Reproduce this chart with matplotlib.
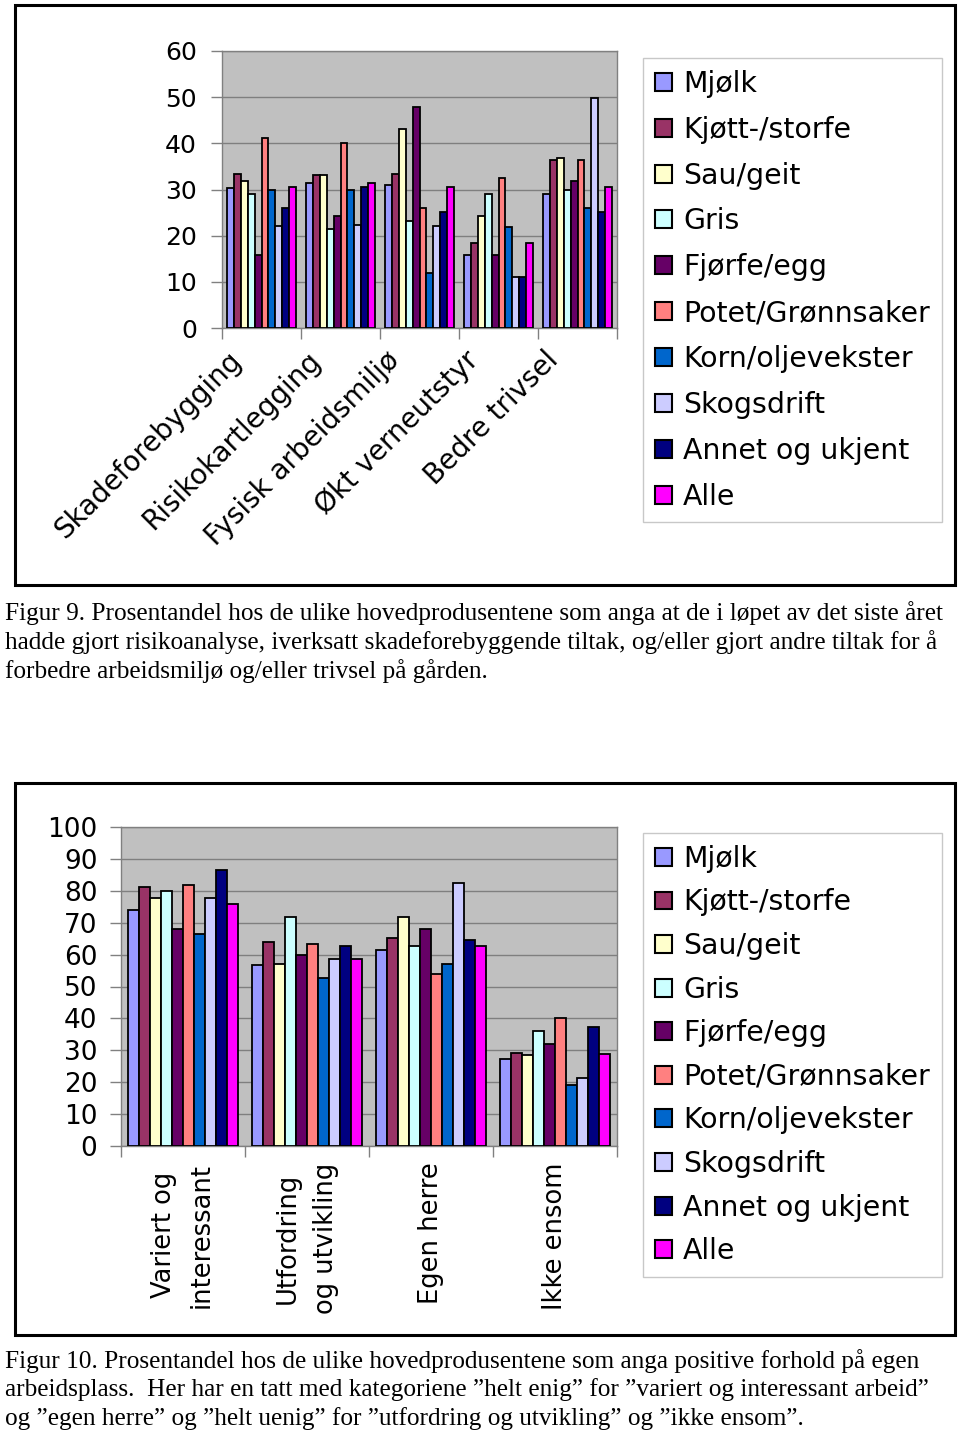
import matplotlib
matplotlib.use('Agg')
import matplotlib.pyplot as plt
from matplotlib.patches import Rectangle, Patch
from matplotlib.transforms import ScaledTranslation
import numpy as np

# ---- data ----
series = ['Mjølk', 'Kjøtt-/storfe', 'Sau/geit', 'Gris', 'Fjørfe/egg',
          'Potet/Grønnsaker', 'Korn/oljevekster', 'Skogsdrift',
          'Annet og ukjent', 'Alle']
colors = ['#9999FF', '#993366', '#FFFFCC', '#CCFFFF', '#660066',
          '#FF8080', '#0066CC', '#CCCCFF', '#000080', '#FF00FF']

cats_top = ['Skadeforebygging', 'Risikokartlegging', 'Fysisk arbeidsmiljø',
            'Økt verneutstyr', 'Bedre trivsel']
# one row per series, one column per category
vals_top = [
    [30.4, 31.5, 31.0, 15.9, 29.1],   # Mjølk
    [33.4, 33.2, 33.4, 18.4, 36.3],   # Kjøtt-/storfe
    [31.9, 33.2, 43.1, 24.2, 36.8],   # Sau/geit
    [29.1, 21.5, 23.1, 29.0, 29.8],   # Gris
    [15.9, 24.3, 47.9, 15.9, 31.9],   # Fjørfe/egg
    [41.1, 40.0, 26.1, 32.4, 36.3],   # Potet/Grønnsaker
    [29.9, 30.0, 11.9, 21.8, 26.0],   # Korn/oljevekster
    [22.0, 22.3, 22.2, 11.0, 49.8],   # Skogsdrift
    [26.0, 30.5, 25.1, 11.0, 25.1],   # Annet og ukjent
    [30.5, 31.4, 30.5, 18.4, 30.5],   # Alle
]

cats_bot = ['Variert og\ninteressant', 'Utfordring\nog utvikling',
            'Egen herre', 'Ikke ensom']
vals_bot = [
    [74.1, 56.6, 61.3, 27.4],
    [81.2, 63.8, 65.3, 29.3],
    [77.7, 57.1, 71.9, 28.6],
    [79.9, 71.9, 62.6, 36.1],
    [68.0, 59.8, 68.0, 31.9],
    [81.7, 63.2, 54.0, 40.0],
    [66.5, 52.6, 57.2, 19.2],
    [77.8, 58.6, 82.6, 21.3],
    [86.5, 62.7, 64.6, 37.3],
    [75.8, 58.6, 62.7, 28.7],
]

cap_top = ['Figur 9. Prosentandel hos de ulike hovedprodusentene som anga at de i løpet av det siste året',
           'hadde gjort risikoanalyse, iverksatt skadeforebyggende tiltak, og/eller gjort andre tiltak for å',
           'forbedre arbeidsmiljø og/eller trivsel på gården.']
cap_bot = ['Figur 10. Prosentandel hos de ulike hovedprodusentene som anga positive forhold på egen',
           'arbeidsplass.  Her har en tatt med kategoriene ”helt enig” for ”variert og interessant arbeid”',
           'og ”egen herre” og ”helt uenig” for ”utfordring og utvikling” og ”ikke ensom”.']

W, H = 960, 1433
fig = plt.figure(figsize=(W / 100, H / 100), dpi=100)


def px_axes(x0, y0, x1, y1):
    return fig.add_axes([x0 / W, 1 - y1 / H, (x1 - x0) / W, (y1 - y0) / H])


def box(x0, y0, x1, y1):
    fig.patches.append(Rectangle((x0 / W, 1 - y1 / H), (x1 - x0) / W, (y1 - y0) / H,
                                 transform=fig.transFigure, fill=False,
                                 edgecolor='black', linewidth=2.2))


def bar_chart(ax, cats, vals, ymax):
    n = len(cats)
    x = np.arange(n) + 0.5
    bw = 0.088
    for i, name in enumerate(series):
        ax.bar(x + (i - 4.5) * bw, vals[i], bw, color=colors[i],
               edgecolor='black', linewidth=1.3, zorder=3)
    ax.set_facecolor('#C0C0C0')
    ax.set_xlim(0, n)
    ax.set_ylim(0, ymax)
    ax.set_yticks(np.arange(0, ymax + 1, 10))
    ax.yaxis.grid(True, color='#7F7F7F', linewidth=1)
    ax.set_axisbelow(True)
    for s in ax.spines.values():
        s.set_color('#808080')
        s.set_linewidth(1)
    ax.set_xticks(np.arange(n + 1))
    ax.set_xticklabels([])
    ax.tick_params(axis='both', which='major', color='#808080', length=8, width=1)
    ax.set_xticks(x, minor=True)
    ax.tick_params(axis='x', which='minor', length=0)
    return x


def legend(y_top, spacing):
    handles = [Patch(facecolor=c, edgecolor='black', linewidth=1.5) for c in colors]
    leg = fig.legend(handles, series, loc='upper left',
                     bbox_to_anchor=(643 / W, 1 - y_top / H), borderaxespad=0,
                     fontsize=20.4, frameon=True, fancybox=False,
                     edgecolor='#BBBBBB', handlelength=0.6, handleheight=0.6,
                     handletextpad=0.4, labelspacing=spacing, borderpad=0.42)
    leg.get_frame().set_linewidth(1)
    return leg


# ---- top chart ----
box(15, 5, 955, 585)
ax1 = px_axes(222, 51, 617, 328)
xc = bar_chart(ax1, cats_top, vals_top, 60)
ax1.set_xticklabels(cats_top, minor=True, rotation=45, ha='right', va='center',
                    rotation_mode='anchor', fontsize=20)
ax1.tick_params(axis='x', which='minor', pad=20)
for lab in ax1.get_xticklabels(minor=True):
    lab.set_transform(lab.get_transform() + ScaledTranslation(-24 / 100, 0, fig.dpi_scale_trans))
ax1.tick_params(axis='y', labelsize=18, pad=10)
legend(58, 0.63)

for k, line in enumerate(cap_top):
    fig.text(5 / W, 1 - (613 + 29 * k) / H, line, family='Liberation Serif',
             fontsize=18.2, va='center', ha='left')

# ---- bottom chart ----
box(15, 783, 955, 1335)
ax2 = px_axes(121, 827, 617, 1146)
bar_chart(ax2, cats_bot, vals_bot, 100)
ax2.set_xticklabels(cats_bot, minor=True, rotation=90, ha='center', va='top',
                    multialignment='center', fontsize=18.5, linespacing=1.6)
ax2.tick_params(axis='x', which='minor', pad=12)
ax2.tick_params(axis='y', labelsize=19, pad=9)
legend(833, 0.55)

for k, line in enumerate(cap_bot):
    fig.text(5 / W, 1 - (1361 + 29 * k) / H, line, family='Liberation Serif',
             fontsize=18.2, va='center', ha='left')

fig.savefig('out.png', dpi=100)
